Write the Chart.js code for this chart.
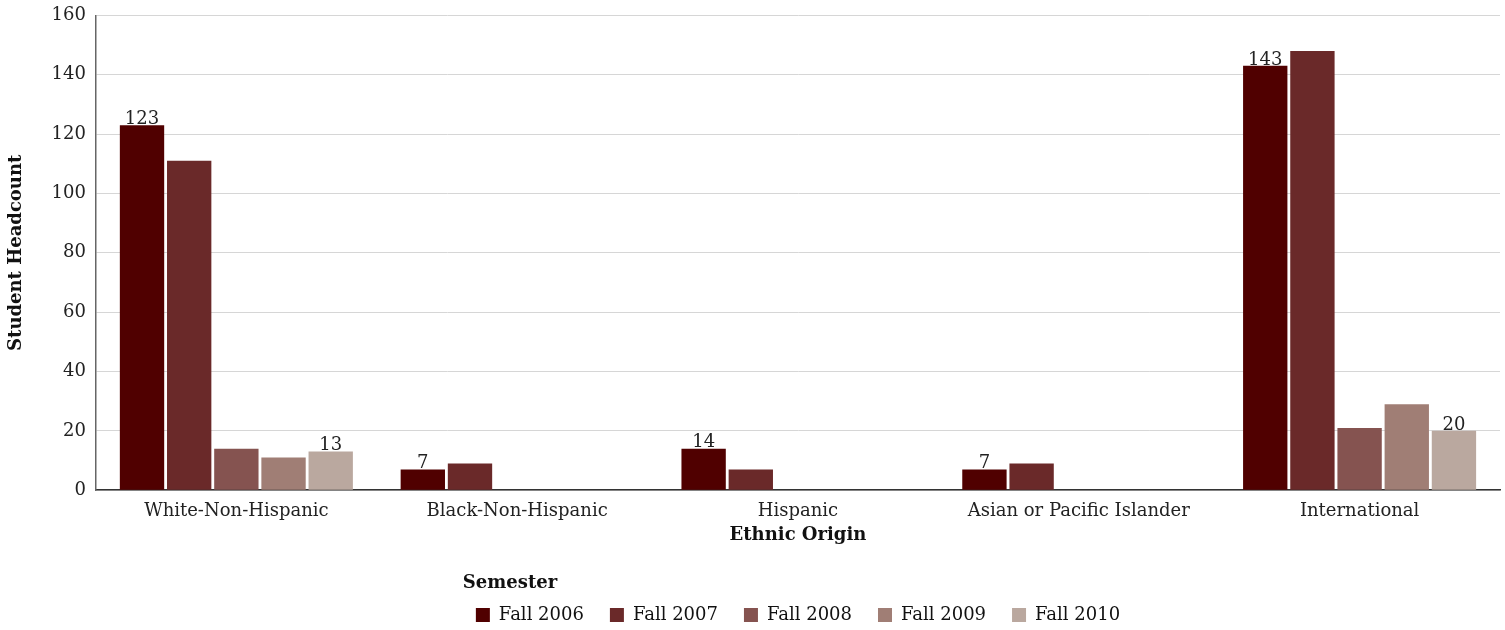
<!DOCTYPE html>
<html>
<head>
<meta charset="utf-8">
<script src="https://cdn.jsdelivr.net/npm/chart.js@4/dist/chart.umd.min.js"></script>
<style>
  body { margin: 0; background: #fff; }
  #wrap { width: 1505px; height: 630px; position: relative; }
</style>
</head>
<body>
<div id="wrap"><canvas id="ethnicChart"></canvas></div>
<script>
const categories = ['White-Non-Hispanic', 'Black-Non-Hispanic', 'Hispanic', 'Asian or Pacific Islander', 'International'];
const semesters = ['Fall 2006', 'Fall 2007', 'Fall 2008', 'Fall 2009', 'Fall 2010'];
const fall2006 = [123, 7, 14, 7, 143];
const fall2007 = [111, 9, 7, 9, 148];
const fall2008 = [14, null, null, null, 21];
const fall2009 = [11, null, null, null, 29];
const fall2010 = [13, null, null, null, 20];
const colors = ['#500000', '#6a2929', '#855350', '#a07e75', '#baa89f'];
const labelledSeries = [0, 4];

const FONT = "'DejaVu Serif', Georgia, serif";
const seriesValues = [fall2006, fall2007, fall2008, fall2009, fall2010];

// value labels above first and last series
const barLabels = {
    id: 'barLabels',
    afterDatasetsDraw(chart) {
        const ctx = chart.ctx;
        ctx.save();
        ctx.font = '18px ' + FONT;
        ctx.fillStyle = '#222';
        ctx.textAlign = 'center';
        ctx.textBaseline = 'bottom';
        labelledSeries.forEach(di => {
            const meta = chart.getDatasetMeta(di);
            meta.data.forEach((bar, i) => {
                const v = chart.data.datasets[di].data[i];
                if (v === null || v === undefined) return;
                ctx.fillText(String(v), bar.x, bar.y + 3);
            });
        });
        ctx.restore();
    }
};

const chart = new Chart(document.getElementById('ethnicChart').getContext('2d'), {
    type: 'bar',
    data: {
        labels: categories,
        datasets: semesters.map((s, i) => ({
            label: s,
            data: seriesValues[i],
            backgroundColor: colors[i],
            barPercentage: 0.94,
            categoryPercentage: 0.84
        }))
    },
    options: {
        responsive: true,
        maintainAspectRatio: false,
        animation: false,
        layout: { padding: { top: 0, right: 5, left: 6, bottom: -4 } },
        plugins: {
            tooltip: { enabled: false },
            legend: {
                position: 'bottom',
                fullSize: false,
                labels: {
                    font: { family: FONT, size: 18 },
                    color: '#111',
                    boxWidth: 14,
                    boxHeight: 14,
                    padding: 26
                },
                title: {
                    display: true,
                    text: 'Semester',
                    position: 'start',
                    color: '#111',
                    font: { family: FONT, size: 18, weight: 'bold' },
                    padding: { top: 28, bottom: -16 }
                }
            }
        },
        scales: {
            x: {
                grid: { display: false, drawTicks: false },
                border: { color: '#333', width: 1.5 },
                ticks: { font: { family: FONT, size: 18 }, color: '#222', padding: 10 },
                title: {
                    display: true,
                    text: 'Ethnic Origin',
                    color: '#111',
                    font: { family: FONT, size: 18, weight: 'bold' },
                    padding: { top: -7, bottom: 0 }
                }
            },
            y: {
                min: 0,
                max: 160,
                ticks: { stepSize: 20, font: { family: FONT, size: 18, lineHeight: 0.6 }, color: '#222', padding: 10 },
                grid: { color: '#d6d6d6', lineWidth: 1, drawTicks: false },
                border: { color: '#666', width: 1.5 },
                title: {
                    display: true,
                    text: 'Student Headcount',
                    color: '#111',
                    font: { family: FONT, size: 18, weight: 'bold' },
                    padding: { top: 0, bottom: 14 }
                }
            }
        }
    },
    plugins: [barLabels]
});
</script>
</body>
</html>
